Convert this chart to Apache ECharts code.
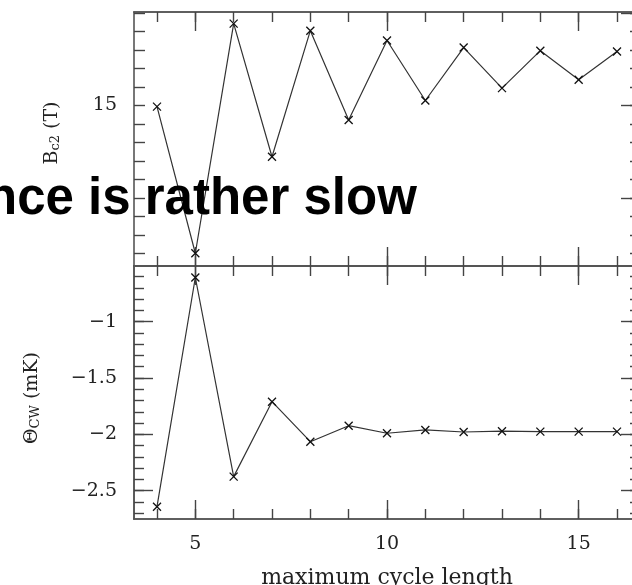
<!DOCTYPE html>
<html>
<head>
<meta charset="utf-8">
<script src="https://cdn.jsdelivr.net/npm/echarts@6/dist/echarts.min.js"></script>
<style>
html,body{margin:0;padding:0;background:#fff;}
#chart{width:632px;height:585px;}
</style>
</head>
<body>
<div id="chart"></div>
<script>
// ---- data ----
const cycleLength = [4, 5, 6, 7, 8, 9, 10, 11, 12, 13, 14, 15, 16];
const bc2Values = [14.94, 7.02, 19.42, 12.23, 19.04, 14.22, 18.51, 15.27, 18.13, 15.94, 17.96, 16.39, 17.92];
const thetaValues = [-2.642, -0.608, -2.375, -1.71, -2.065, -1.923, -1.99, -1.961, -1.979, -1.972, -1.976, -1.976, -1.976];

// ---- ticks / labels ----
const xMajorTicks = [5, 10, 15];
const xMinorTicks = [4, 5, 6, 7, 8, 9, 10, 11, 12, 13, 14, 15, 16];
const xTickLabels = [5, 10, 15];
const bc2MajorTicks = [10, 15, 20];
const bc2MinorTicks = [7, 8, 9, 10, 11, 12, 13, 14, 15, 16, 17, 18, 19, 20];
const bc2TickLabels = [15];
const thetaMajorTicks = [-2.5, -2, -1.5, -1];
const thetaMinorTicks = [-2.7, -2.6, -2.5, -2.4, -2.3, -2.2, -2.1, -2.0, -1.9, -1.8, -1.7, -1.6, -1.5, -1.4, -1.3, -1.2, -1.1, -1.0, -0.9, -0.8, -0.7, -0.6];

const xRange = [3.4, 16.6];
const bc2Range = [6.33, 20.05];
const thetaRange = [-2.751, -0.506];

const overlayText = 'nce is rather slow';
const xName = 'maximum cycle length';

const serif = '"DejaVu Serif", "Liberation Serif", serif';
const lineCol = '#555';
const tickCol = '#444';
const fmt = v => String(v).replace('-', '\u2212');

function xAx(grid, pos, ticks, len, opts) {
  return Object.assign({
    type: 'value', gridIndex: grid, position: pos, min: xRange[0], max: xRange[1],
    splitLine: {show: false},
    axisLine: {show: true, onZero: false, lineStyle: {color: lineCol, width: 1.6}},
    axisTick: {show: true, inside: true, length: len, customValues: ticks, lineStyle: {color: tickCol, width: 1.4}},
    axisLabel: {show: false}
  }, opts || {});
}
function yAx(grid, pos, range, ticks, len, opts) {
  return Object.assign({
    type: 'value', gridIndex: grid, position: pos, min: range[0], max: range[1],
    splitLine: {show: false},
    axisLine: {show: true, onZero: false, lineStyle: {color: lineCol, width: 1.6}},
    axisTick: {show: true, inside: true, length: len, customValues: ticks, lineStyle: {color: tickCol, width: 1.4}},
    axisLabel: {show: false}
  }, opts || {});
}

const labelStyle = {show: true, fontFamily: serif, fontSize: 19, color: '#222', formatter: fmt};

const nameRich = {
  b: {fontFamily: serif, fontSize: 19, color: '#222', lineHeight: 22, verticalAlign: 'bottom'},
  s: {fontFamily: serif, fontSize: 13, color: '#222', lineHeight: 3, verticalAlign: 'bottom'}
};

const chart = echarts.init(document.getElementById('chart'), null, {renderer: 'canvas'});

const option = {
  animation: false,
  backgroundColor: '#fff',
  grid: [
    {left: 134, top: 12, width: 506, height: 254, containLabel: false, outerBoundsMode: 'none'},
    {left: 134, top: 266, width: 506, height: 253, containLabel: false, outerBoundsMode: 'none'}
  ],
  xAxis: [
    xAx(0, 'bottom', xMajorTicks, 19),
    xAx(0, 'bottom', xMinorTicks, 10),
    xAx(0, 'top', xMajorTicks, 19),
    xAx(0, 'top', xMinorTicks, 10),
    xAx(1, 'bottom', xMajorTicks, 19, {
      axisLabel: Object.assign({}, labelStyle, {customValues: xTickLabels, margin: 16}),
      name: xName, nameLocation: 'middle', nameGap: 48,
      nameTextStyle: {fontFamily: serif, fontSize: 22, color: '#222'}
    }),
    xAx(1, 'bottom', xMinorTicks, 10),
    xAx(1, 'top', xMajorTicks, 19),
    xAx(1, 'top', xMinorTicks, 10)
  ],
  yAxis: [
    yAx(0, 'left', bc2Range, bc2MinorTicks, 11, {
      axisLabel: Object.assign({}, labelStyle, {customValues: bc2TickLabels, margin: 17}),
      name: '{b|B}{s|c2}{b| (T)}', nameLocation: 'middle', nameGap: 72, nameRotate: 90,
      nameTextStyle: {rich: nameRich, padding: [0, 0, 0, 12]}
    }),
    yAx(0, 'right', bc2Range, bc2MajorTicks, 19),
    yAx(0, 'right', bc2Range, bc2MinorTicks, 10),
    yAx(1, 'left', thetaRange, thetaMajorTicks, 19, {
      axisLabel: Object.assign({}, labelStyle, {customValues: thetaMajorTicks, margin: 17}),
      name: '{b|\u0398}{s|CW}{b| (mK)}', nameLocation: 'middle', nameGap: 92, nameRotate: 90,
      nameTextStyle: {rich: nameRich, padding: [0, 11, 0, 0]}
    }),
    yAx(1, 'left', thetaRange, thetaMinorTicks, 10),
    yAx(1, 'right', thetaRange, thetaMajorTicks, 19),
    yAx(1, 'right', thetaRange, thetaMinorTicks, 10)
  ],
  series: [
    {
      type: 'line', xAxisIndex: 0, yAxisIndex: 0,
      data: cycleLength.map((x, i) => [x, bc2Values[i]]),
      symbol: 'path://M0,0L10,10M10,0L0,10', symbolSize: 8,
      lineStyle: {color: '#333', width: 1.2},
      itemStyle: {color: 'rgba(0,0,0,0)', borderColor: '#111', borderWidth: 1.3},
      z: 3
    },
    {
      type: 'line', xAxisIndex: 4, yAxisIndex: 3,
      data: cycleLength.map((x, i) => [x, thetaValues[i]]),
      symbol: 'path://M0,0L10,10M10,0L0,10', symbolSize: 8,
      lineStyle: {color: '#333', width: 1.2},
      itemStyle: {color: 'rgba(0,0,0,0)', borderColor: '#111', borderWidth: 1.3},
      z: 3
    }
  ],
  graphic: [
    {
      type: 'text', x: -14, y: 200, z: 100,
      style: {
        text: overlayText,
        font: 'bold 51px "Liberation Sans", Arial, sans-serif',
        fill: '#000', align: 'left', verticalAlign: 'middle'
      }
    }
  ]
};
chart.setOption(option);
</script>
</body>
</html>
